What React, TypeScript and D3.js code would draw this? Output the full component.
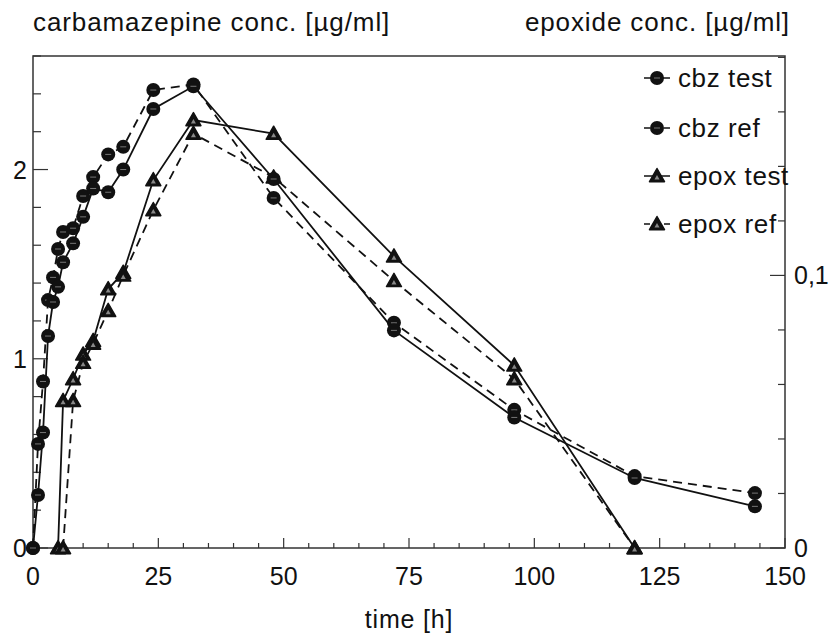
import React from "react";
import * as d3 from "d3";

const cbzTimes = [0, 1, 2, 3, 4, 5, 6, 8, 10, 12, 15, 18, 24, 32, 48, 72, 96, 120, 144];
const cbzTest = [0, 0.28, 0.61, 1.12, 1.3, 1.38, 1.51, 1.61, 1.75, 1.9, 1.88, 2.0, 2.32, 2.44, 1.95, 1.15, 0.69, 0.37, 0.22];
const cbzRef = [0, 0.55, 0.88, 1.31, 1.43, 1.58, 1.67, 1.69, 1.86, 1.96, 2.08, 2.12, 2.42, 2.45, 1.85, 1.19, 0.73, 0.38, 0.29];

const epoxTimes = [5, 6, 8, 10, 12, 15, 18, 24, 32, 48, 72, 96, 120];
const epoxTest: (number | null)[] = [0, 0.054, 0.062, 0.071, 0.076, 0.095, 0.101, 0.135, 0.157, 0.152, 0.107, 0.067, 0];
const epoxRef: (number | null)[] = [null, 0, 0.054, 0.068, 0.075, 0.087, 0.1, 0.124, 0.152, 0.136, 0.098, 0.062, 0];

const xTicks = [0, 25, 50, 75, 100, 125, 150];
const leftTicks = [0, 1, 2];
const rightTicks = [0, 0.1];
const rightTickLabels = ["0", "0,1"];
const legendLabels = ["cbz test", "cbz ref", "epox test", "epox ref"];

const W = 831;
const H = 637;
const FONT = "'Liberation Sans', Arial, Helvetica, sans-serif";

export default function App() {
  const left = 33, right = 785, top = 56, bottom = 548;
  const x = d3.scaleLinear().domain([0, 150]).range([left, right]);
  const yL = d3.scaleLinear().domain([0, 2.6]).range([bottom, top]);
  const yR = d3.scaleLinear().domain([0, 0.1805]).range([bottom, top]);

  const cbzLine = (vals: number[]) =>
    d3.line<number>().x((_, i) => x(cbzTimes[i])).y((v) => yL(v))(vals) || "";
  const epoxLine = (vals: (number | null)[]) =>
    d3
      .line<number | null>()
      .defined((v) => v !== null)
      .x((_, i) => x(epoxTimes[i]))
      .y((v) => yR(v as number))(vals) || "";

  const xMinor = d3.range(0, 151, 5);
  const lMinor = d3.range(0, 2.61, 0.2);
  const rMinor = d3.range(0, 0.181, 0.02);

  const circle = (cx: number, cy: number, key: string) => (
    <g key={key}>
      <circle cx={cx} cy={cy} r={7} fill="#111" />
      <line x1={cx - 3} x2={cx + 3} y1={cy} y2={cy} stroke="#777" strokeWidth={1} />
    </g>
  );
  const tri = (cx: number, cy: number, key: string) => {
    const s = 7.5;
    return (
      <g key={key}>
        <path
          d={`M${cx},${cy - s} L${cx + s},${cy + s * 0.75} L${cx - s},${cy + s * 0.75} Z`}
          fill="#111"
          stroke="#111"
          strokeWidth={1.5}
          strokeLinejoin="round"
        />
        <path
          d={`M${cx},${cy - 1} L${cx + 2.5},${cy + 3.5} L${cx - 2.5},${cy + 3.5} Z`}
          fill="#888"
        />
      </g>
    );
  };

  const dash = "9,6";
  const legendX = 657;
  const legendBase = [87, 137, 185, 233];

  return (
    <svg
      width={W}
      height={H}
      style={{ position: "absolute", left: 0, top: 0, background: "#fff" }}
      fontFamily={FONT}
    >
      <rect x={0} y={0} width={W} height={H} fill="#fff" />
      {/* frame */}
      <rect x={left} y={top} width={right - left} height={bottom - top} fill="none" stroke="#333" strokeWidth={1.5} />

      {/* x ticks */}
      {xMinor.map((t) => (
        <line key={"xm" + t} x1={x(t)} x2={x(t)} y1={bottom} y2={bottom - (t % 25 === 0 ? 10 : 5)} stroke="#333" strokeWidth={1.2} />
      ))}
      {xTicks.map((t) => (
        <text key={"xl" + t} x={x(t)} y={585} fontSize={25} textAnchor="middle" fill="#111">
          {t}
        </text>
      ))}

      {/* left ticks */}
      {lMinor.map((v, i) => (
        <line key={"lm" + i} x1={left} x2={left + (i % 5 === 0 ? 15 : 8)} y1={yL(v)} y2={yL(v)} stroke="#333" strokeWidth={1.2} />
      ))}
      {leftTicks.map((v) => (
        <text key={"ll" + v} x={27} y={yL(v) + 9} fontSize={25} textAnchor="end" fill="#111">
          {v}
        </text>
      ))}

      {/* right ticks */}
      {rMinor.map((v, i) => (
        <line key={"rm" + i} x1={right} x2={right - (i % 5 === 0 ? 15 : 7)} y1={yR(v)} y2={yR(v)} stroke="#333" strokeWidth={1.2} />
      ))}
      {rightTicks.map((v, i) => (
        <text key={"rl" + i} x={794} y={yR(v) + 9} fontSize={25} textAnchor="start" fill="#111">
          {rightTickLabels[i]}
        </text>
      ))}

      {/* titles */}
      <text x={33} y={31} fontSize={26} letterSpacing={0.9} fill="#111">
        carbamazepine conc. [µg/ml]
      </text>
      <text x={790} y={31} fontSize={26} letterSpacing={0.9} textAnchor="end" fill="#111">
        epoxide conc. [µg/ml]
      </text>
      <text x={409} y={628} fontSize={25} letterSpacing={0.8} textAnchor="middle" fill="#111">
        time [h]
      </text>

      {/* lines */}
      <path d={cbzLine(cbzTest)} fill="none" stroke="#111" strokeWidth={1.8} />
      <path d={cbzLine(cbzRef)} fill="none" stroke="#111" strokeWidth={1.8} strokeDasharray={dash} />
      <path d={epoxLine(epoxTest)} fill="none" stroke="#111" strokeWidth={1.8} />
      <path d={epoxLine(epoxRef)} fill="none" stroke="#111" strokeWidth={1.8} strokeDasharray={dash} />

      {/* markers */}
      {epoxTest.map((v, i) => (v === null ? null : tri(x(epoxTimes[i]), yR(v), "et" + i)))}
      {epoxRef.map((v, i) => (v === null ? null : tri(x(epoxTimes[i]), yR(v), "er" + i)))}
      {cbzRef.map((v, i) => circle(x(cbzTimes[i]), yL(v), "cr" + i))}
      {cbzTest.map((v, i) => circle(x(cbzTimes[i]), yL(v), "ct" + i))}

      {/* legend */}
      {legendLabels.map((lab, i) => {
        const by = legendBase[i];
        const my = by - 9;
        const isRef = i % 2 === 1;
        return (
          <g key={"lg" + i}>
            <line
              x1={legendX - 13}
              x2={legendX + 13}
              y1={my}
              y2={my}
              stroke="#111"
              strokeWidth={1.5}
              strokeDasharray={isRef ? "6,14" : undefined}
            />
            {i < 2 ? circle(legendX, my, "lgm" + i) : tri(legendX, my, "lgm" + i)}
            <text x={678} y={by} fontSize={26} letterSpacing={0.6} fill="#111">
              {lab}
            </text>
          </g>
        );
      })}
    </svg>
  );
}
